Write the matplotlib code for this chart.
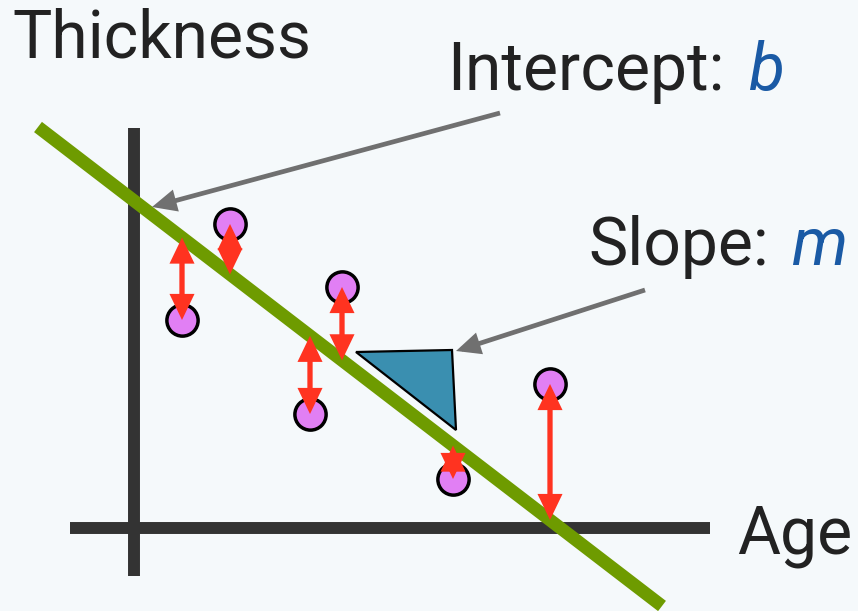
import numpy as np
import matplotlib
matplotlib.use("Agg")
import matplotlib.pyplot as plt
from matplotlib.patches import FancyArrowPatch, Polygon, ArrowStyle

# ---- data (image-like coordinates, y grows downward) ----
age_axis_x = [70, 710]
age_axis_y = [528, 528]
thick_axis_x = [134, 134]
thick_axis_y = [128, 576]

fit_x = [38, 662]
fit_y = [127, 606]

point_x = [182, 230, 342, 310, 453, 550]
point_y = [320, 224, 287, 414, 479, 384]

tri_x = [356, 452, 456]
tri_y = [352, 350, 430]

intercept_arrow = [(500, 113), (152, 207)]
slope_arrow = [(645, 290), (456, 351)]

labels = {"x": "Age", "y": "Thickness", "intercept": "Intercept:", "b": "b",
          "slope": "Slope:", "m": "m"}

BG = "#f5f9fb"
DARK = "#333333"
GREEN = "#6e9b00"
PURPLE = "#e17ff4"
RED = "#ff3320"
GRAY = "#707070"
TEAL = "#3a8fb0"
BLUE = "#1a5aa5"
TXT = "#222222"

plt.rcParams['font.family'] = ['Roboto', 'DejaVu Sans']
W = "normal"

fig = plt.figure(figsize=(8.58, 6.11), dpi=100, facecolor=BG)
ax = fig.add_axes([0, 0, 1, 1])
ax.set_facecolor(BG)
ax.set_xlim(0, 858)
ax.set_ylim(611, 0)
ax.axis("off")

# axes
ax.plot(age_axis_x, age_axis_y, color=DARK, lw=8.6, solid_capstyle="butt", zorder=1)
ax.plot(thick_axis_x, thick_axis_y, color=DARK, lw=8.6, solid_capstyle="butt", zorder=1)

# fit line
ax.plot(fit_x, fit_y, color=GREEN, lw=9.3, solid_capstyle="butt", zorder=2)

# slope triangle
tri = Polygon(list(zip(tri_x, tri_y)), closed=True, facecolor=TEAL,
              edgecolor="black", lw=1.6, joinstyle="miter", zorder=3)
ax.add_patch(tri)

# points
ax.plot(point_x, point_y, "o", ms=22.5, mfc=PURPLE, mec="black", mew=2.5, zorder=4)

# residual arrows
line_at_pts = np.interp(point_x, fit_x, fit_y)
for px, py, ly in zip(point_x, point_y, line_at_pts):
    arr = FancyArrowPatch((px, py), (px, ly),
                          arrowstyle=ArrowStyle("<|-|>", head_length=12.5, head_width=6.0),
                          mutation_scale=1, color=RED, lw=3.8, shrinkA=0, shrinkB=0,
                          joinstyle="miter", capstyle="butt", zorder=5)
    ax.add_patch(arr)

# annotation arrows
for (p0, p1) in (intercept_arrow, slope_arrow):
    arr = FancyArrowPatch(p0, p1,
                          arrowstyle=ArrowStyle("-|>", head_length=12, head_width=5.5),
                          mutation_scale=1, color=GRAY, lw=3.4, shrinkA=0, shrinkB=0,
                          joinstyle="miter", capstyle="butt", zorder=6)
    ax.add_patch(arr)

FS = 47.5
ax.text(12, 58, labels["y"], fontsize=FS, color=TXT, ha="left", va="baseline", weight=W)
ax.text(852, 553, labels["x"], fontsize=FS, color=TXT, ha="right", va="baseline", weight=W)
t1 = ax.text(447, 90, labels["intercept"], fontsize=FS, color=TXT, ha="left", va="baseline", weight=W)
ax.annotate(labels["b"], xy=(1, 0), xycoords=t1, xytext=(18, 0), textcoords="offset points",
            fontsize=FS, color=BLUE, style="italic", ha="left", va="bottom", weight=W)
t2 = ax.text(588, 265, labels["slope"], fontsize=FS, color=TXT, ha="left", va="baseline", weight=W)
ax.annotate(labels["m"], xy=(1, 0), xycoords=t2, xytext=(16, 0), textcoords="offset points",
            fontsize=FS, color=BLUE, style="italic", ha="left", va="bottom", weight=W)

fig.savefig("out.png", dpi=100, facecolor=BG)
